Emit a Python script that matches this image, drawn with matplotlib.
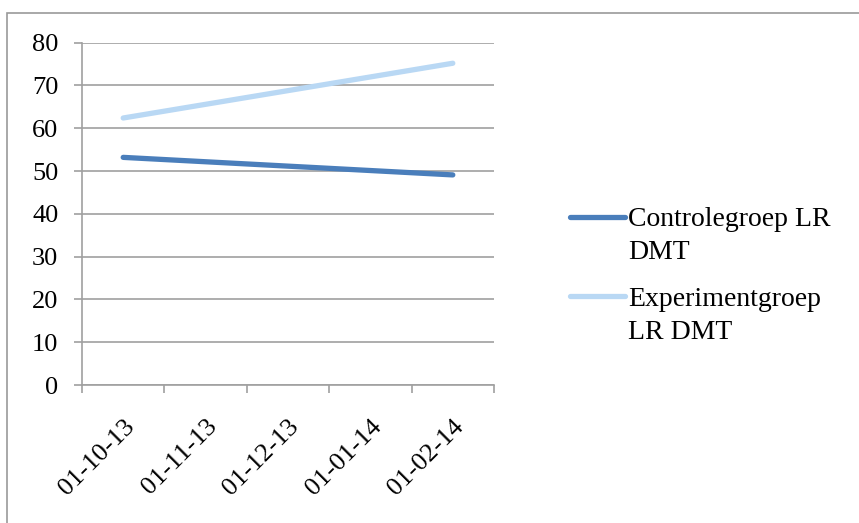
import numpy as np
import matplotlib
matplotlib.use("Agg")
import matplotlib.pyplot as plt
from matplotlib.lines import Line2D
from matplotlib.patches import Rectangle
from matplotlib.transforms import ScaledTranslation

# meetmomenten (alleen begin en eind gemeten)
dates = ["01-10-13", "01-11-13", "01-12-13", "01-01-14", "01-02-14"]
controle = [53.2, None, None, None, 49.1]
experiment = [62.4, None, None, None, 75.2]
series_names = ["Controlegroep LR\nDMT", "Experimentgroep\nLR DMT"]
series_colors = ["#4a7ebb", "#b9d8f4"]

plt.rcParams["font.family"] = ["Liberation Serif", "DejaVu Serif"]
fs = 19

fig = plt.figure(figsize=(8.59, 5.23), dpi=100)
W, H = 859, 523
ax = fig.add_axes([82 / W, 1 - 385 / H, 412 / W, 342.3 / H])

# rand om de grafiek
fig.add_artist(Rectangle((7 / W, -0.1), 1.2, 1 - 13 / H + 0.1, transform=fig.transFigure,
                         fill=False, edgecolor="#9a9a9a", linewidth=1.2))

grid_col = "#a0a0a0"
for vals, col in zip([controle, experiment], series_colors):
    x = [i for i, v in enumerate(vals) if v is not None]
    y = [v for v in vals if v is not None]
    ax.plot(x, y, color=col, linewidth=3.8, solid_capstyle="round", zorder=3)

ax.set_xlim(-0.5, len(dates) - 0.5)
ax.set_ylim(0, 80)
ax.set_yticks(np.arange(0, 81, 10))
ax.yaxis.grid(True, color=grid_col, linewidth=1.2)
ax.set_axisbelow(True)

ax.set_xticks(np.arange(-0.5, len(dates), 1.0))
ax.set_xticklabels([])
ax.set_xticks(np.arange(len(dates)), minor=True)
ax.set_xticklabels(dates, minor=True, rotation=45, ha="right", rotation_mode="anchor",
                   fontsize=fs)
shift = ScaledTranslation(-1 / 100, 0, fig.dpi_scale_trans)
for lbl in ax.get_xticklabels(minor=True):
    lbl.set_transform(lbl.get_transform() + shift)
ax.tick_params(axis="x", which="minor", length=0, pad=22)
ax.tick_params(axis="x", which="major", length=6, width=1.2, color=grid_col, direction="out")
ax.tick_params(axis="y", length=6, width=1.2, color=grid_col, labelsize=fs, pad=11)

for s in ["top", "right"]:
    ax.spines[s].set_visible(False)
for s in ["left", "bottom"]:
    ax.spines[s].set_color(grid_col)
    ax.spines[s].set_linewidth(1.2)

# legenda
for (name, col, ly) in zip(series_names, series_colors, [216.5, 296]):
    fig.add_artist(Line2D([570 / W, 625 / W], [1 - ly / H] * 2, transform=fig.transFigure,
                          color=col, linewidth=3.8, solid_capstyle="round"))
    fig.text(628 / W, 1 - (ly - 9) / H, name, fontsize=20, va="top", ha="left",
             linespacing=1.4)

fig.savefig("out.png", dpi=100)
